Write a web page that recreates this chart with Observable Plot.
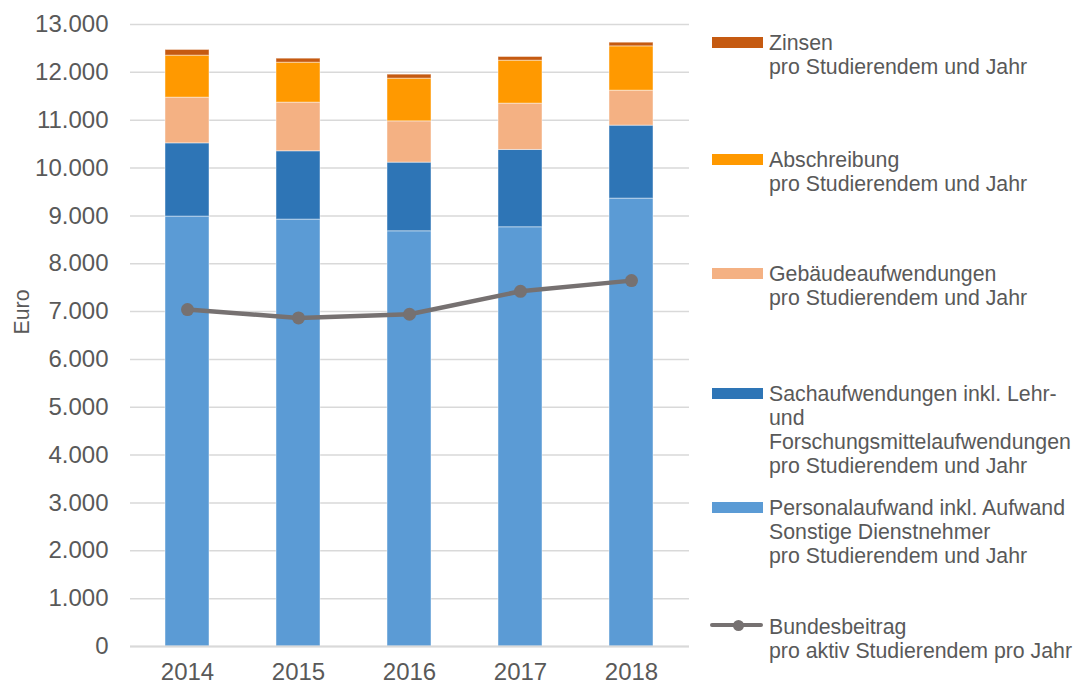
<!DOCTYPE html>
<html>
<head>
<meta charset="utf-8">
<script src="https://cdn.jsdelivr.net/npm/d3@7"></script>
<script src="https://cdn.jsdelivr.net/npm/@observablehq/plot@0.6"></script>
<style>
  html, body { margin: 0; padding: 0; background: #fff; }
  #wrap { position: relative; width: 1075px; height: 684px; font-family: "Liberation Sans", Arial, sans-serif; color: #595959; }
  .lg { position: absolute; left: 769px; font-size: 21.3px; line-height: 24px; color: #595959; white-space: nowrap; }
  .sw { position: absolute; left: 712px; width: 51px; height: 11px; }
</style>
</head>
<body>
<div id="wrap"></div>
<script>
const years = ["2014", "2015", "2016", "2017", "2018"];
const personal = [8985, 8922, 8678, 8762, 9361];
const sach = [1531, 1428, 1435, 1616, 1525];
const gebaeude = [955, 1017, 863, 968, 731];
const abschreibung = [878, 835, 892, 898, 926];
const zinsen = [119, 84, 84, 77, 77];
const bundesbeitrag = [7041, 6868, 6944, 7424, 7647];
const yTicks = [0, 1000, 2000, 3000, 4000, 5000, 6000, 7000, 8000, 9000, 10000, 11000, 12000, 13000];

const seriesNames = ["Personal", "Sach", "Gebäude", "Abschreibung", "Zinsen"];
const seriesValues = [personal, sach, gebaeude, abschreibung, zinsen];
const seriesColors = ["#5B9BD5", "#2E75B6", "#F4B183", "#FF9900", "#C55A11"];
const lineColor = "#767171";

const legendEntries = [
  {lines: ["Zinsen", "pro Studierendem und Jahr"], color: "#C55A11", top: 43},
  {lines: ["Abschreibung", "pro Studierendem und Jahr"], color: "#FF9900", top: 160},
  {lines: ["Gebäudeaufwendungen", "pro Studierendem und Jahr"], color: "#F4B183", top: 274},
  {lines: ["Sachaufwendungen inkl. Lehr-", "und", "Forschungsmittelaufwendungen", "pro Studierendem und Jahr"], color: "#2E75B6", top: 394},
  {lines: ["Personalaufwand inkl. Aufwand", "Sonstige Dienstnehmer", "pro Studierendem und Jahr"], color: "#5B9BD5", top: 508},
  {lines: ["Bundesbeitrag", "pro aktiv Studierendem pro Jahr"], color: lineColor, top: 627, line: true}
];

const rows = [];
seriesNames.forEach((s, i) => {
  years.forEach((y, j) => rows.push({year: y, series: s, value: seriesValues[i][j]}));
});
const lineRows = years.map((y, j) => ({year: y, value: bundesbeitrag[j]}));

const deLocale = d3.formatLocale({decimal: ",", thousands: ".", grouping: [3], currency: ["", " €"]});
const fmt = deLocale.format(",d");

const chart = Plot.plot({
  width: 1075,
  height: 684,
  marginLeft: 130,
  marginRight: 386,
  marginTop: 24,
  marginBottom: 38,
  style: {fontFamily: "'Liberation Sans', Arial, sans-serif", fontSize: "24px", color: "#595959", background: "transparent", overflow: "visible"},
  x: {domain: years, paddingInner: 0.6, paddingOuter: 0.3, label: null},
  y: {domain: [0, 13000], label: null},
  color: {domain: seriesNames, range: seriesColors},
  marks: [
    Plot.gridY(yTicks, {stroke: "#d9d9d9", strokeOpacity: 1, strokeWidth: 1.5}),
    Plot.barY(rows, {x: "year", y: "value", fill: "series", stroke: "#ffffff", strokeOpacity: 0.45, strokeWidth: 1}),
    Plot.ruleY([0], {stroke: "#d9d9d9", strokeWidth: 2}),
    Plot.line(lineRows, {x: "year", y: "value", stroke: lineColor, strokeWidth: 4.5}),
    Plot.dot(lineRows, {x: "year", y: "value", r: 6.5, fill: lineColor, stroke: "none"}),
    Plot.axisY(yTicks, {tickSize: 0, tickPadding: 22, tickFormat: fmt, label: null, fill: "#595959"}),
    Plot.axisX({tickSize: 0, tickPadding: 16, label: null, fill: "#595959"})
  ]
});

const wrap = document.getElementById("wrap");
wrap.appendChild(chart);

d3.select(chart).append("text")
  .attr("transform", "translate(22,312) rotate(-90)")
  .attr("text-anchor", "middle")
  .attr("dominant-baseline", "central")
  .attr("fill", "#595959")
  .style("font-size", "21.3px")
  .style("font-family", "'Liberation Sans', Arial, sans-serif")
  .text("Euro");

legendEntries.forEach(e => {
  const t = document.createElement("div");
  t.className = "lg";
  t.style.top = (e.top - 12) + "px";
  t.innerHTML = e.lines.join("<br>");
  wrap.appendChild(t);
  if (e.line) {
    const l = document.createElement("div");
    l.style.cssText = `position:absolute;left:710px;width:53px;height:4.5px;top:${e.top - 4.25}px;background:${e.color};border-radius:2px;`;
    wrap.appendChild(l);
    const d = document.createElement("div");
    d.style.cssText = `position:absolute;left:${738 - 5.5}px;width:11px;height:11px;top:${e.top - 2 - 5.5}px;background:${e.color};border-radius:50%;`;
    wrap.appendChild(d);
  } else {
    const s = document.createElement("div");
    s.className = "sw";
    s.style.top = (e.top - 6.5) + "px";
    s.style.background = e.color;
    wrap.appendChild(s);
  }
});
</script>
</body>
</html>
